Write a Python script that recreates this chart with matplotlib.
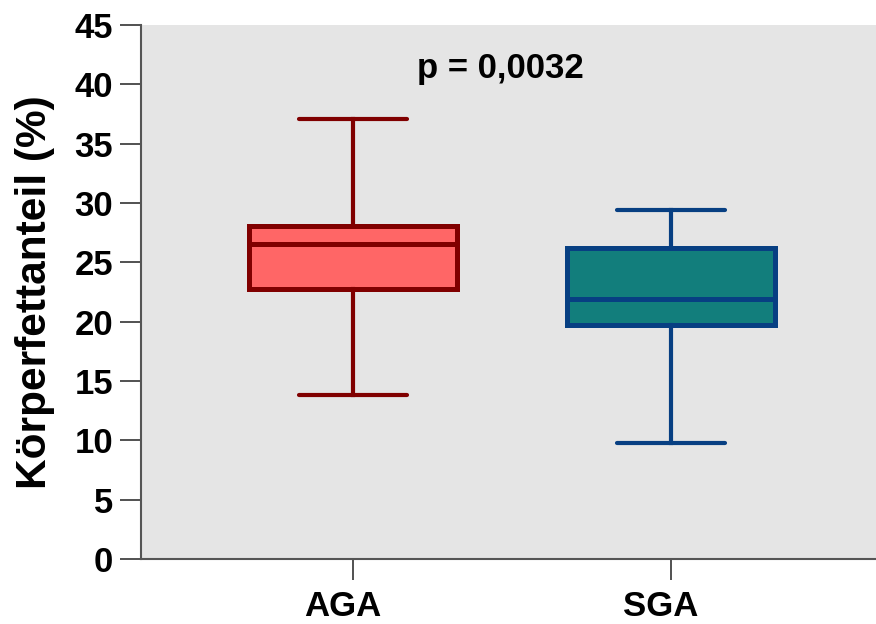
import matplotlib
matplotlib.use("Agg")
import matplotlib.pyplot as plt
import matplotlib.transforms as mtransforms

plt.rcParams['font.family'] = ['Liberation Sans', 'DejaVu Sans']

categories = ["AGA", "SGA"]
whislo = [13.8, 9.75]
q1 = [22.75, 19.7]
med = [26.55, 21.9]
q3 = [28.1, 26.2]
whishi = [37.05, 29.4]
p_text = "p = 0,0032"
yticks = [0, 5, 10, 15, 20, 25, 30, 35, 40, 45]

faces = ["#ff6666", "#127e7c"]
edges = ["#800000", "#073f82"]

fig = plt.figure(figsize=(8.76, 6.24), dpi=100)
ax = fig.add_axes([141/876, 1-559/624, 1-141/876, (559-25)/624])
ax.set_facecolor("#e5e5e5")

for i, cat in enumerate(categories):
    stats = [dict(label=cat, whislo=whislo[i], q1=q1[i], med=med[i], q3=q3[i], whishi=whishi[i], fliers=[])]
    ax.bxp(stats, positions=[i], widths=0.654, patch_artist=True, showfliers=False,
           capwidths=0.34,
           boxprops=dict(facecolor=faces[i], edgecolor=edges[i], linewidth=3.6),
           medianprops=dict(color=edges[i], linewidth=3.6),
           whiskerprops=dict(color=edges[i], linewidth=3.0),
           capprops=dict(color=edges[i], linewidth=3.0, solid_capstyle='round'))

ax.set_xlim(-0.667, 1.645)
ax.set_ylim(0, 45)
ax.set_yticks(yticks)
ax.set_xticks([0, 1])
ax.set_xticklabels(categories)

for s in ["top", "right"]:
    ax.spines[s].set_visible(False)
for s in ["left", "bottom"]:
    ax.spines[s].set_color("#555555")
    ax.spines[s].set_linewidth(1.5)

ax.tick_params(axis='both', direction='out', length=15, width=1.2, color='#333333',
               labelsize=25, pad=5)
for lab in ax.get_xticklabels() + ax.get_yticklabels():
    lab.set_fontweight('bold')
ax.tick_params(axis='x', pad=7)
offset = mtransforms.ScaledTranslation(-10/100, 0, fig.dpi_scale_trans)
for lab in ax.get_xticklabels():
    lab.set_transform(lab.get_transform() + offset)

ax.set_ylabel("Körperfettanteil (%)", fontsize=30.5, fontweight='bold', labelpad=14)

ax.text(0.465, 41.3, p_text, ha='center', va='center', fontsize=25, fontweight='bold')

fig.savefig("out.png", dpi=100)
